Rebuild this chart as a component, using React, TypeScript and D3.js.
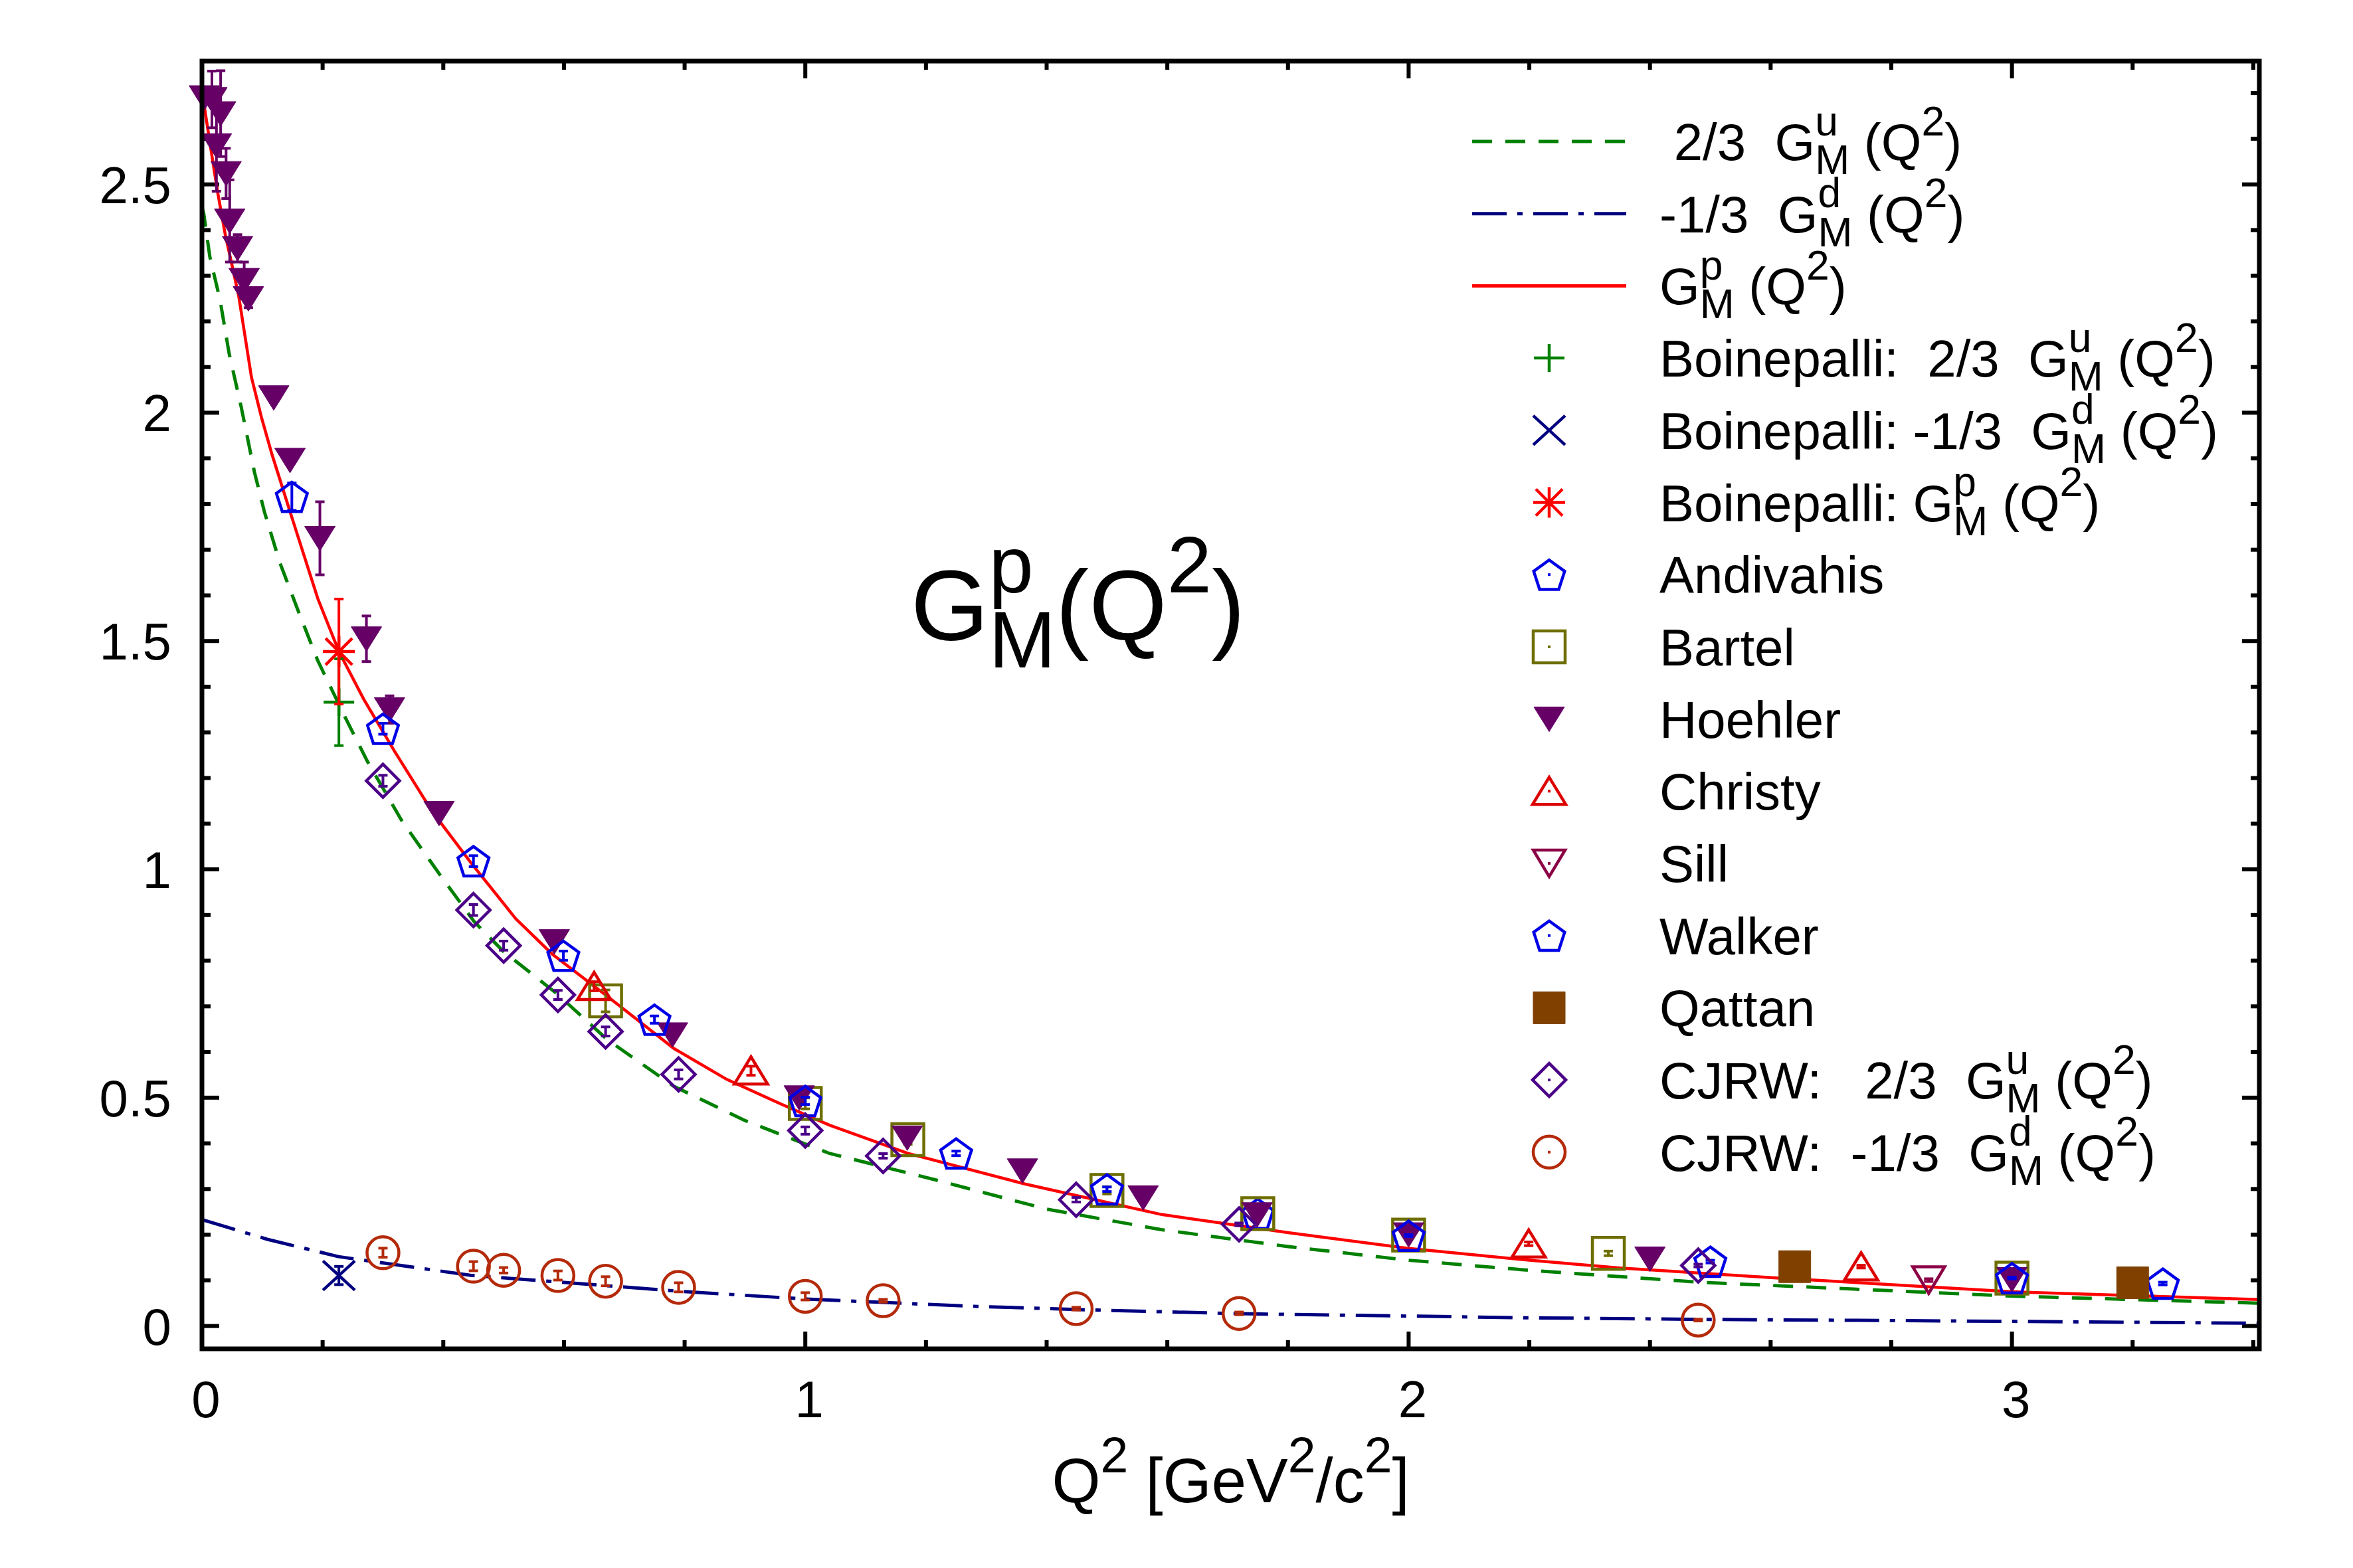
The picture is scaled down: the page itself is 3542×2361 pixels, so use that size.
import React from 'react';
import * as d3 from 'd3';

// Proton magnetic form factor G_M^p(Q^2): model curves, lattice points and experiment.

const W = 3542;
const H = 2361;
const M = { left: 304, right: 3401, top: 92, bottom: 2031 };
const FONT = '"Liberation Sans", Arial, Helvetica, sans-serif';
const FS = 78;

const X_DOMAIN = [0, 3.41];
const Y_DOMAIN = [-0.05, 2.77];
const X_MAJOR = [0, 1, 2, 3];
const Y_MAJOR = [0, 0.5, 1, 1.5, 2, 2.5];
const Y_LABELS = ['0', '0.5', '1', '1.5', '2', '2.5'];

// model curves [Q2, value]
const CURVE_U = [
  [0, 2.45], [0.003, 2.436], [0.013, 2.342], [0.03, 2.247], [0.045, 2.13], [0.065, 2.013],
  [0.087, 1.87], [0.1035, 1.783], [0.129, 1.672], [0.161, 1.561], [0.192, 1.457], [0.237, 1.334],
  [0.274, 1.237], [0.3315, 1.106], [0.394, 0.989], [0.4515, 0.885], [0.5, 0.82], [0.588, 0.728],
  [0.672, 0.627], [0.782, 0.525], [0.9, 0.45], [1.04, 0.378], [1.21, 0.322], [1.4, 0.256],
  [1.59, 0.211], [1.8, 0.174], [2.0, 0.144], [2.2, 0.122], [2.48, 0.096], [3.0, 0.0655], [3.41, 0.05],
];
const CURVE_D = [
  [0, 0.233], [0.108, 0.19], [0.226, 0.152], [0.445, 0.111], [0.782, 0.077], [1.0, 0.059],
  [1.261, 0.044], [1.449, 0.036], [1.719, 0.027], [2.197, 0.018], [2.482, 0.0146], [3.0, 0.0102], [3.41, 0.006],
];
const CURVE_P = [
  [0, 2.7], [0.004, 2.67], [0.018, 2.55], [0.026, 2.483], [0.0385, 2.391], [0.05, 2.322],
  [0.061, 2.255], [0.082, 2.078], [0.099, 1.988], [0.116, 1.909], [0.148, 1.775], [0.192, 1.593],
  [0.227, 1.477], [0.268, 1.373], [0.319, 1.259], [0.382, 1.126], [0.445, 1.016], [0.52, 0.892],
  [0.58, 0.815], [0.672, 0.722], [0.782, 0.608], [0.87, 0.54], [0.96, 0.486], [1.04, 0.44],
  [1.17, 0.378], [1.364, 0.311], [1.591, 0.244], [1.802, 0.204], [2.0, 0.17], [2.2, 0.144],
  [2.35, 0.127], [2.614, 0.105], [3.0, 0.075], [3.41, 0.058],
];

// data points [Q2, value, error]
const BOINE_U = [[0.227, 1.366, 0.095]];
const BOINE_D = [[0.227, 0.1106, 0.02]];
const BOINE_P = [[0.227, 1.477, 0.115]];
const ANDIVAHIS = [[1.75, 0.246, 0.003], [2.5, 0.141, 0.003], [3.25, 0.093, 0.003]];
const BARTEL = [
  [0.669, 0.712, 0.024], [1.0, 0.4875, 0.012], [1.17, 0.408, 0.01], [1.5, 0.297, 0.008],
  [1.75, 0.246, 0.006], [2.0, 0.199, 0.005], [2.331, 0.159, 0.005], [3.0, 0.105, 0.004],
];
const HOEHLER = [
  [0.004, 2.69, 0], [0.0165, 2.686, 0.062], [0.031, 2.655, 0.094], [0.024, 2.585, 0.1],
  [0.04, 2.524, 0.055], [0.046, 2.42, 0.09], [0.059, 2.36, 0.03], [0.07, 2.29, 0.04],
  [0.077, 2.25, 0.02], [0.119, 2.033, 0], [0.146, 1.896, 0], [0.1955, 1.725, 0.08],
  [0.2726, 1.505, 0.05], [0.311, 1.35, 0.03], [0.393, 1.123, 0], [0.584, 0.842, 0],
  [0.78, 0.638, 0], [0.99, 0.5, 0], [1.169, 0.412, 0], [1.36, 0.34, 0], [1.56, 0.281, 0],
  [1.749, 0.244, 0], [2.0, 0.2, 0], [2.4, 0.147, 0], [3.0, 0.102, 0],
];
const CHRISTY = [[0.65, 0.744, 0.01], [0.91, 0.559, 0.01], [2.199, 0.18, 0.004], [2.75, 0.13, 0.003]];
const SILL = [[2.862, 0.1005, 0.003]];
const WALKER = [
  [0.149, 1.816, 0.03], [0.3, 1.308, 0.012], [0.45, 1.018, 0.012], [0.599, 0.811, 0.01],
  [0.75, 0.671, 0.008], [1.0, 0.493, 0.008], [1.25, 0.378, 0.005], [1.5, 0.2995, 0.005],
  [2.0, 0.198, 0.002], [3.0, 0.105, 0.002],
];
const QATTAN = [[2.64, 0.13, 0], [3.2, 0.0946, 0]];
const CJRW_U = [
  [0.3, 1.194, 0.012], [0.45, 0.911, 0.012], [0.5, 0.833, 0.01], [0.59, 0.725, 0.01],
  [0.669, 0.645, 0.01], [0.79, 0.551, 0.01], [1.0, 0.428, 0.008], [1.129, 0.3725, 0.005],
  [1.449, 0.2765, 0.005], [1.719, 0.2226, 0.003], [2.48, 0.1324, 0.003],
];
const CJRW_D = [
  [0.3, 0.1605, 0.01], [0.45, 0.131, 0.01], [0.5, 0.122, 0.006], [0.59, 0.1106, 0.01],
  [0.669, 0.098, 0.01], [0.79, 0.0847, 0.01], [1.0, 0.065, 0.008], [1.129, 0.0553, 0.003],
  [1.449, 0.038, 0.003], [1.719, 0.0276, 0.003], [2.48, 0.013, 0.002],
];

const CURVES = [
  { label: ' 2/3  G@^u_M (Q^2)', data: CURVE_U, color: '#008000', dash: '30,20' },
  { label: '-1/3  G@^d_M (Q^2)', data: CURVE_D, color: '#000080', dash: '52,16,8,16' },
  { label: 'G@^p_M (Q^2)', data: CURVE_P, color: '#ff0000', dash: null },
];

const SERIES = [
  { label: 'Boinepalli:  2/3  G@^u_M (Q^2)', data: BOINE_U, shape: 'plus', color: '#008000', dot: false },
  { label: 'Boinepalli: -1/3  G@^d_M (Q^2)', data: BOINE_D, shape: 'cross', color: '#000080', dot: false },
  { label: 'Boinepalli: G@^p_M (Q^2)', data: BOINE_P, shape: 'star', color: '#ff0000', dot: false },
  { label: 'Andivahis', data: ANDIVAHIS, shape: 'pentagon', color: '#0000e6', dot: true },
  { label: 'Bartel', data: BARTEL, shape: 'square', color: '#6e6e00', dot: true },
  { label: 'Hoehler', data: HOEHLER, shape: 'downFilled', color: '#660066', dot: false },
  { label: 'Christy', data: CHRISTY, shape: 'up', color: '#dd0000', dot: true },
  { label: 'Sill', data: SILL, shape: 'down', color: '#8c0046', dot: true },
  { label: 'Walker', data: WALKER, shape: 'pentagon', color: '#0000e6', dot: true },
  { label: 'Qattan', data: QATTAN, shape: 'squareFilled', color: '#804000', dot: false },
  { label: 'CJRW:   2/3  G@^u_M (Q^2)', data: CJRW_U, shape: 'diamond', color: '#4b0088', dot: true },
  { label: 'CJRW:  -1/3  G@^d_M (Q^2)', data: CJRW_D, shape: 'circle', color: '#b42a0a', dot: true },
];

let measureCtx: CanvasRenderingContext2D | null = null;
function measure(text: string, size: number) {
  if (!measureCtx) measureCtx = document.createElement('canvas').getContext('2d');
  if (!measureCtx) return text.length * size * 0.556;
  measureCtx.font = `${size}px ${FONT}`;
  return measureCtx.measureText(text).width;
}

// gnuplot-style enhanced text: ^x, _x, ^{..}, @^x_y (overprinted super/sub)
function parseRich(s: string) {
  const segs: { text: string; kind: string; zero?: boolean }[] = [];
  let i = 0;
  let buf = '';
  const flush = () => {
    if (buf) segs.push({ text: buf, kind: 'n' });
    buf = '';
  };
  const group = () => {
    if (s[i] === '{') {
      const j = s.indexOf('}', i);
      const t = s.slice(i + 1, j);
      i = j + 1;
      return t;
    }
    const t = s[i];
    i += 1;
    return t;
  };
  while (i < s.length) {
    const c = s[i];
    if (c === '@') {
      flush();
      i += 1;
      const k1 = s[i];
      i += 1;
      const t1 = group();
      segs.push({ text: t1, kind: k1 === '^' ? 'sup' : 'sub', zero: true });
      const k2 = s[i];
      i += 1;
      const t2 = group();
      segs.push({ text: t2, kind: k2 === '^' ? 'sup' : 'sub' });
    } else if (c === '^' || c === '_') {
      flush();
      i += 1;
      const t = group();
      segs.push({ text: t, kind: c === '^' ? 'sup' : 'sub' });
    } else {
      buf += c;
      i += 1;
    }
  }
  flush();
  return segs;
}

function RichText({ x, y, text, size, anchor = 'start' }: any) {
  const segs = parseRich(text);
  let off = 0;
  let back = 0;
  return (
    <text
      x={x}
      y={y}
      fontSize={size}
      fontFamily={FONT}
      textAnchor={anchor}
      xmlSpace="preserve"
      style={{ whiteSpace: 'pre' }}
      fill="#000"
    >
      {segs.map((seg, k) => {
        const target = seg.kind === 'sup' ? -0.48 * size : seg.kind === 'sub' ? 0.27 * size : 0;
        const dy = target - off;
        off = target;
        const sz = seg.kind === 'n' ? size : 0.8 * size;
        const dx = back ? -back : undefined;
        back = seg.zero ? measure(seg.text, sz) : 0;
        return (
          <tspan key={k} dy={dy} dx={dx} fontSize={sz}>
            {seg.text}
          </tspan>
        );
      })}
    </text>
  );
}

function markerPath(shape: string) {
  switch (shape) {
    case 'pentagon': {
      const r = 24.5;
      const pts = d3.range(5).map((k) => {
        const a = ((-90 + k * 72) * Math.PI) / 180;
        return [r * Math.cos(a), r * Math.sin(a) + 2.5];
      });
      return `M${pts.map((p) => p.join(',')).join('L')}Z`;
    }
    case 'square':
    case 'squareFilled':
      return 'M-24,-24L24,-24L24,24L-24,24Z';
    case 'diamond':
      return 'M0,-25L25,0L0,25L-25,0Z';
    case 'up':
      return 'M0,-21L25,20L-25,20Z';
    case 'down':
      return 'M-24,-20L24,-20L0,20Z';
    case 'downFilled':
      return 'M-23,-18L23,-18L0,19Z';
    case 'plus':
      return 'M-23,0L23,0M0,-21L0,21';
    case 'cross':
      return 'M-24,-22L24,22M-24,22L24,-22';
    case 'star':
      return 'M-24,0L24,0M0,-23L0,23M-20,-20L20,20M-20,20L20,-20';
    default:
      return '';
  }
}

function Marker({ shape, color, cx, cy, dot }: any) {
  const filled = shape === 'downFilled' || shape === 'squareFilled';
  return (
    <g transform={`translate(${cx},${cy})`}>
      {shape === 'circle' ? (
        <circle r={24} fill="none" stroke={color} strokeWidth={4.5} />
      ) : (
        <path
          d={markerPath(shape)}
          fill={filled ? color : 'none'}
          stroke={color}
          strokeWidth={filled ? 1 : 4.5}
          strokeLinejoin="miter"
        />
      )}
      {dot && <rect x={-2} y={-2} width={4} height={4} fill={color} />}
    </g>
  );
}

export default function App() {
  const x = d3.scaleLinear().domain(X_DOMAIN).range([M.left, M.right]);
  const y = d3.scaleLinear().domain(Y_DOMAIN).range([M.bottom, M.top]);
  const line = d3
    .line<number[]>()
    .x((d) => x(d[0]))
    .y((d) => y(d[1]));

  const xMinor = d3.range(0, 3.41, 0.2).map((v) => +v.toFixed(2));
  const yMinor = d3.range(0, 2.75, 0.1).map((v) => +v.toFixed(2));
  const legendY = (i: number) => 213 + i * 108.7;
  const LEG_LINE = [2216, 2448];
  const LEG_MARK = 2332;
  const LEG_TEXT = 2498;

  return (
    <svg
      width={W}
      height={H}
      viewBox={`0 0 ${W} ${H}`}
      style={{ position: 'absolute', left: 0, top: 0, background: '#fff' }}
    >
      <rect width={W} height={H} fill="#fff" />
      <defs>
        <clipPath id="plot-clip">
          <rect x={M.left} y={M.top} width={M.right - M.left} height={M.bottom - M.top} />
        </clipPath>
      </defs>

      {/* ticks, mirrored on all four sides */}
      <g stroke="#000" strokeWidth={6}>
        {xMinor.map((v) => {
          const len = X_MAJOR.includes(v) ? 26 : 13;
          return (
            <g key={`xt-${v}`}>
              <line x1={x(v)} x2={x(v)} y1={M.bottom} y2={M.bottom - len} />
              <line x1={x(v)} x2={x(v)} y1={M.top} y2={M.top + len} />
            </g>
          );
        })}
        {yMinor.map((v) => {
          const len = Y_MAJOR.includes(v) ? 26 : 13;
          return (
            <g key={`yt-${v}`}>
              <line x1={M.left} x2={M.left + len} y1={y(v)} y2={y(v)} />
              <line x1={M.right} x2={M.right - len} y1={y(v)} y2={y(v)} />
            </g>
          );
        })}
      </g>

      {X_MAJOR.map((v) => (
        <text key={`xl-${v}`} x={x(v) + 6} y={2134} fontSize={FS} fontFamily={FONT} textAnchor="middle">
          {String(v)}
        </text>
      ))}
      {Y_MAJOR.map((v, i) => (
        <text key={`yl-${v}`} x={258} y={y(v) + 28} fontSize={FS} fontFamily={FONT} textAnchor="end">
          {Y_LABELS[i]}
        </text>
      ))}

      <RichText x={(M.left + M.right) / 2} y={2262} size={94} anchor="middle" text="Q^2 [GeV^2/c^2]" />
      <RichText x={1371} y={964} size={151} text="G@^p_M(Q^2)" />

      {/* model curves */}
      <g clipPath="url(#plot-clip)" fill="none">
        {CURVES.map((c) => (
          <path
            key={c.label}
            d={line(c.data) ?? ''}
            stroke={c.color}
            strokeWidth={c.color === '#ff0000' ? 4.5 : 5}
            strokeDasharray={c.dash ?? undefined}
          />
        ))}
      </g>

      {/* data with error bars */}
      {SERIES.map((s) => (
        <g key={s.label}>
          {s.data.map((d, k) => (
            <g key={k}>
              <g stroke={s.color} strokeWidth={4}>
                <line x1={x(d[0])} x2={x(d[0])} y1={y(d[1] - d[2])} y2={y(d[1] + d[2])} />
                <line x1={x(d[0]) - 7} x2={x(d[0]) + 7} y1={y(d[1] - d[2])} y2={y(d[1] - d[2])} />
                <line x1={x(d[0]) - 7} x2={x(d[0]) + 7} y1={y(d[1] + d[2])} y2={y(d[1] + d[2])} />
              </g>
              <Marker shape={s.shape} color={s.color} cx={x(d[0])} cy={y(d[1])} dot={false} />
            </g>
          ))}
        </g>
      ))}

      {/* legend */}
      {CURVES.map((c, i) => (
        <g key={`leg-${c.label}`}>
          <line
            x1={LEG_LINE[0]}
            x2={LEG_LINE[1]}
            y1={legendY(i)}
            y2={legendY(i)}
            stroke={c.color}
            strokeWidth={5}
            strokeDasharray={c.dash ?? undefined}
          />
          <RichText x={LEG_TEXT} y={legendY(i) + 28} size={FS} text={c.label} />
        </g>
      ))}
      {SERIES.map((s, j) => {
        const i = j + CURVES.length;
        return (
          <g key={`leg-${s.label}`}>
            <Marker shape={s.shape} color={s.color} cx={LEG_MARK} cy={legendY(i)} dot={s.dot} />
            <RichText x={LEG_TEXT} y={legendY(i) + 28} size={FS} text={s.label} />
          </g>
        );
      })}

      <rect
        x={M.left}
        y={M.top}
        width={M.right - M.left}
        height={M.bottom - M.top}
        fill="none"
        stroke="#000"
        strokeWidth={7}
      />
    </svg>
  );
}
